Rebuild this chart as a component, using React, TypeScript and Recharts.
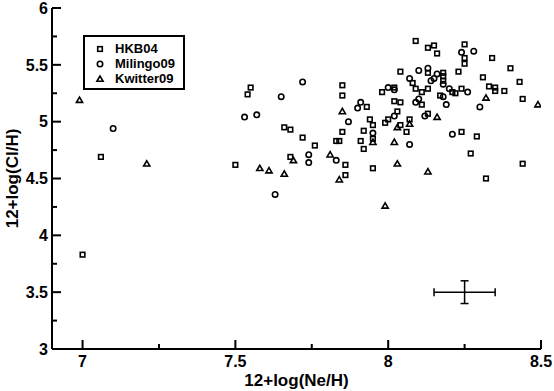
import React from "react";
import { ScatterChart, Scatter, XAxis, YAxis, Legend, ErrorBar, Label } from "recharts";

// ---- data ----
const hkb04X = [7.00,7.06,7.50,7.54,7.55,7.66,7.68,7.68,7.72,7.76,7.83,7.84,7.85,7.85,7.85,7.86,7.86,7.91,7.92,7.92,7.93,7.94,7.95,7.95,7.95,7.98,7.99,8.00,8.02,8.02,8.03,8.04,8.04,8.04,8.06,8.07,8.08,8.09,8.09,8.11,8.11,8.13,8.13,8.13,8.13,8.15,8.16,8.17,8.18,8.18,8.18,8.21,8.22,8.23,8.24,8.24,8.25,8.25,8.25,8.27,8.29,8.31,8.32,8.33,8.34,8.35,8.35,8.38,8.40,8.43,8.44,8.44];
const hkb04Y = [3.83,4.69,4.62,5.24,5.30,4.95,4.93,4.69,4.86,4.79,4.83,4.83,5.32,5.23,4.91,4.62,4.53,4.83,4.92,4.76,5.13,5.02,4.97,4.85,4.59,5.26,4.99,5.02,5.30,5.18,5.09,5.17,5.44,4.97,4.91,5.02,5.34,5.71,5.29,5.26,5.15,5.43,5.29,5.07,5.65,5.67,5.60,5.23,5.43,5.40,5.36,5.26,5.25,5.44,5.29,4.91,5.68,5.56,5.51,4.72,4.87,5.39,4.50,5.31,5.56,5.30,5.27,5.27,5.47,5.35,5.20,4.63];

const milingoX = [7.10,7.53,7.57,7.63,7.65,7.72,7.74,7.74,7.83,7.87,7.90,7.91,7.95,8.00,8.02,8.02,8.07,8.07,8.09,8.10,8.10,8.12,8.13,8.14,8.15,8.16,8.18,8.18,8.19,8.20,8.21,8.24,8.26,8.28,8.30];
const milingoY = [4.94,5.04,5.06,4.36,5.22,5.35,4.71,4.64,4.66,5.00,5.12,5.17,4.90,5.30,5.28,5.05,4.80,5.38,5.17,5.45,5.20,5.05,5.47,5.36,5.38,5.42,5.33,5.22,5.15,5.29,4.89,5.61,5.26,5.62,5.13];

const kwitterX = [6.99,7.21,7.58,7.61,7.66,7.69,7.81,7.84,7.85,7.95,7.99,8.02,8.03,8.03,8.07,8.13,8.16,8.32,8.49];
const kwitterY = [5.19,4.63,4.59,4.57,4.54,4.66,4.71,4.49,5.09,4.82,4.26,4.82,4.63,4.95,4.98,4.56,5.04,5.21,5.15];

const errX = [8.25];
const errY = [3.5];
const errDX = [0.1];
const errDY = [0.1];

const xTicks = [7, 7.25, 7.5, 7.75, 8, 8.25, 8.5];
const xMajor = [7, 7.5, 8, 8.5];
const yTicks = [3, 3.25, 3.5, 3.75, 4, 4.25, 4.5, 4.75, 5, 5.25, 5.5, 5.75, 6];
const yMajor = [3, 3.5, 4, 4.5, 5, 5.5, 6];

const seriesNames = ["HKB04", "Milingo09", "Kwitter09"];

const zip = (xs: number[], ys: number[]) => xs.map((x, i) => ({ x, y: ys[i] }));
const hkb04 = zip(hkb04X, hkb04Y);
const milingo = zip(milingoX, milingoY);
const kwitter = zip(kwitterX, kwitterY);
const errData = errX.map((x, i) => ({ x, y: errY[i], ex: errDX[i], ey: errDY[i] }));

const FONT = "'Liberation Sans', Arial, Helvetica, sans-serif";
const MAJ = 9;
const MIN = 5;
const TW = 2;

const isMaj = (arr: number[], v: number) => arr.some((m) => Math.abs(m - v) < 1e-9);

const BottomTick = (p: any) => {
  const { x, y, payload } = p;
  const major = isMaj(xMajor, payload.value);
  return (
    <g>
      <line x1={x} x2={x} y1={y} y2={y - (major ? MAJ : MIN)} stroke="#000" strokeWidth={TW} />
      {major && (
        <text x={x} y={y + 18} textAnchor="middle" fontFamily={FONT} fontWeight="bold" fontSize={16} fill="#000">
          {String(payload.value)}
        </text>
      )}
    </g>
  );
};
const TopTick = (p: any) => {
  const { x, y, payload } = p;
  const major = isMaj(xMajor, payload.value);
  return <line x1={x} x2={x} y1={y} y2={y + (major ? MAJ : MIN)} stroke="#000" strokeWidth={TW} />;
};
const LeftTick = (p: any) => {
  const { x, y, payload } = p;
  const major = isMaj(yMajor, payload.value);
  return (
    <g>
      <line x1={x} x2={x + (major ? MAJ : MIN)} y1={y} y2={y} stroke="#000" strokeWidth={TW} />
      {major && (
        <text x={x - 4} y={y} dy="0.36em" textAnchor="end" fontFamily={FONT} fontWeight="bold" fontSize={16} fill="#000">
          {String(payload.value)}
        </text>
      )}
    </g>
  );
};
const RightTick = (p: any) => {
  const { x, y, payload } = p;
  const major = isMaj(yMajor, payload.value);
  return <line x1={x} x2={x - (major ? MAJ : MIN)} y1={y} y2={y} stroke="#000" strokeWidth={TW} />;
};

const SW = 1.6;
const SquareShape = (p: any) => (
  <rect x={p.cx - 2.3} y={p.cy - 2.3} width={4.6} height={4.6} fill="none" stroke="#000" strokeWidth={SW} />
);
const CircleShape = (p: any) => <circle cx={p.cx} cy={p.cy} r={2.7} fill="none" stroke="#000" strokeWidth={SW} />;
const TriShape = (p: any) => (
  <polygon
    points={`${p.cx},${p.cy - 3} ${p.cx - 3.1},${p.cy + 2.3} ${p.cx + 3.1},${p.cy + 2.3}`}
    fill="none"
    stroke="#000"
    strokeWidth={SW}
    strokeLinejoin="miter"
  />
);
const NoShape = () => <g />;

const shapes = [SquareShape, CircleShape, TriShape];

const LegendBox = () => (
  <div
    style={{
      width: 102,
      height: 55,
      border: "2px solid #000",
      boxSizing: "border-box",
      background: "#fff",
      position: "relative",
      fontFamily: FONT,
      fontWeight: "bold",
      fontSize: 13,
      color: "#000",
    }}
  >
    {seriesNames.map((n, i) => {
      const Sh = shapes[i];
      return (
        <div key={n} style={{ position: "absolute", left: 8, top: 4 + i * 15, height: 15, display: "flex", alignItems: "center" }}>
          <svg width={14} height={14} style={{ display: "block" }}>
            <Sh cx={7} cy={7} />
          </svg>
          <span style={{ marginLeft: 8, lineHeight: "15px" }}>{n}</span>
        </div>
      );
    })}
  </div>
);

export default function App() {
  return (
    <div style={{ position: "absolute", left: 0, top: 0, background: "#fff" }}>
      <ScatterChart width={554} height={391} margin={{ top: 8, right: 13, bottom: 0, left: 0 }}>
        <XAxis
          xAxisId="b"
          type="number"
          dataKey="x"
          domain={[6.9, 8.5]}
          ticks={xTicks}
          interval={0}
          allowDataOverflow
          tickSize={0}
          tickMargin={0}
          tickLine={false}
          tick={<BottomTick />}
          axisLine={{ stroke: "#000", strokeWidth: 2 }}
          height={42}
        >
          <Label value="12+log(Ne/H)" position="insideBottom" offset={5} fill="#000" fontFamily={FONT} fontWeight="bold" fontSize={17} />
        </XAxis>
        <XAxis
          xAxisId="t"
          orientation="top"
          type="number"
          dataKey="x"
          domain={[6.9, 8.5]}
          ticks={xTicks}
          interval={0}
          allowDataOverflow
          tickSize={0}
          tickMargin={0}
          tickLine={false}
          tick={<TopTick />}
          axisLine={{ stroke: "#000", strokeWidth: 2 }}
          height={0}
        />
        <YAxis
          yAxisId="l"
          type="number"
          dataKey="y"
          domain={[3, 6]}
          ticks={yTicks}
          interval={0}
          allowDataOverflow
          tickSize={0}
          tickMargin={0}
          tickLine={false}
          tick={<LeftTick />}
          axisLine={{ stroke: "#000", strokeWidth: 2 }}
          width={52}
        >
          <Label
            value="12+log(Cl/H)"
            angle={-90}
            position="insideLeft"
            offset={12}
            style={{ textAnchor: "middle" }}
            fill="#000"
            fontFamily={FONT}
            fontWeight="bold"
            fontSize={17}
          />
        </YAxis>
        <YAxis
          yAxisId="r"
          orientation="right"
          type="number"
          dataKey="y"
          domain={[3, 6]}
          ticks={yTicks}
          interval={0}
          allowDataOverflow
          tickSize={0}
          tickMargin={0}
          tickLine={false}
          tick={<RightTick />}
          axisLine={{ stroke: "#000", strokeWidth: 2 }}
          width={0}
        />
        <Legend
          layout="vertical"
          align="center"
          verticalAlign="middle"
          content={<LegendBox />}
          wrapperStyle={{ left: 83, top: 35, width: 102, height: 55 }}
        />
        <Scatter name={seriesNames[0]} xAxisId="b" yAxisId="l" data={hkb04} shape={<SquareShape />} isAnimationActive={false} />
        <Scatter name={seriesNames[1]} xAxisId="b" yAxisId="l" data={milingo} shape={<CircleShape />} isAnimationActive={false} />
        <Scatter name={seriesNames[2]} xAxisId="b" yAxisId="l" data={kwitter} shape={<TriShape />} isAnimationActive={false} />
        <Scatter name="err" xAxisId="b" yAxisId="l" data={errData} shape={<NoShape />} isAnimationActive={false} legendType="none">
          <ErrorBar dataKey="ex" direction="x" width={4} stroke="#000" strokeWidth={1.5} isAnimationActive={false} />
          <ErrorBar dataKey="ey" direction="y" width={4} stroke="#000" strokeWidth={1.5} isAnimationActive={false} />
        </Scatter>
      </ScatterChart>
    </div>
  );
}
